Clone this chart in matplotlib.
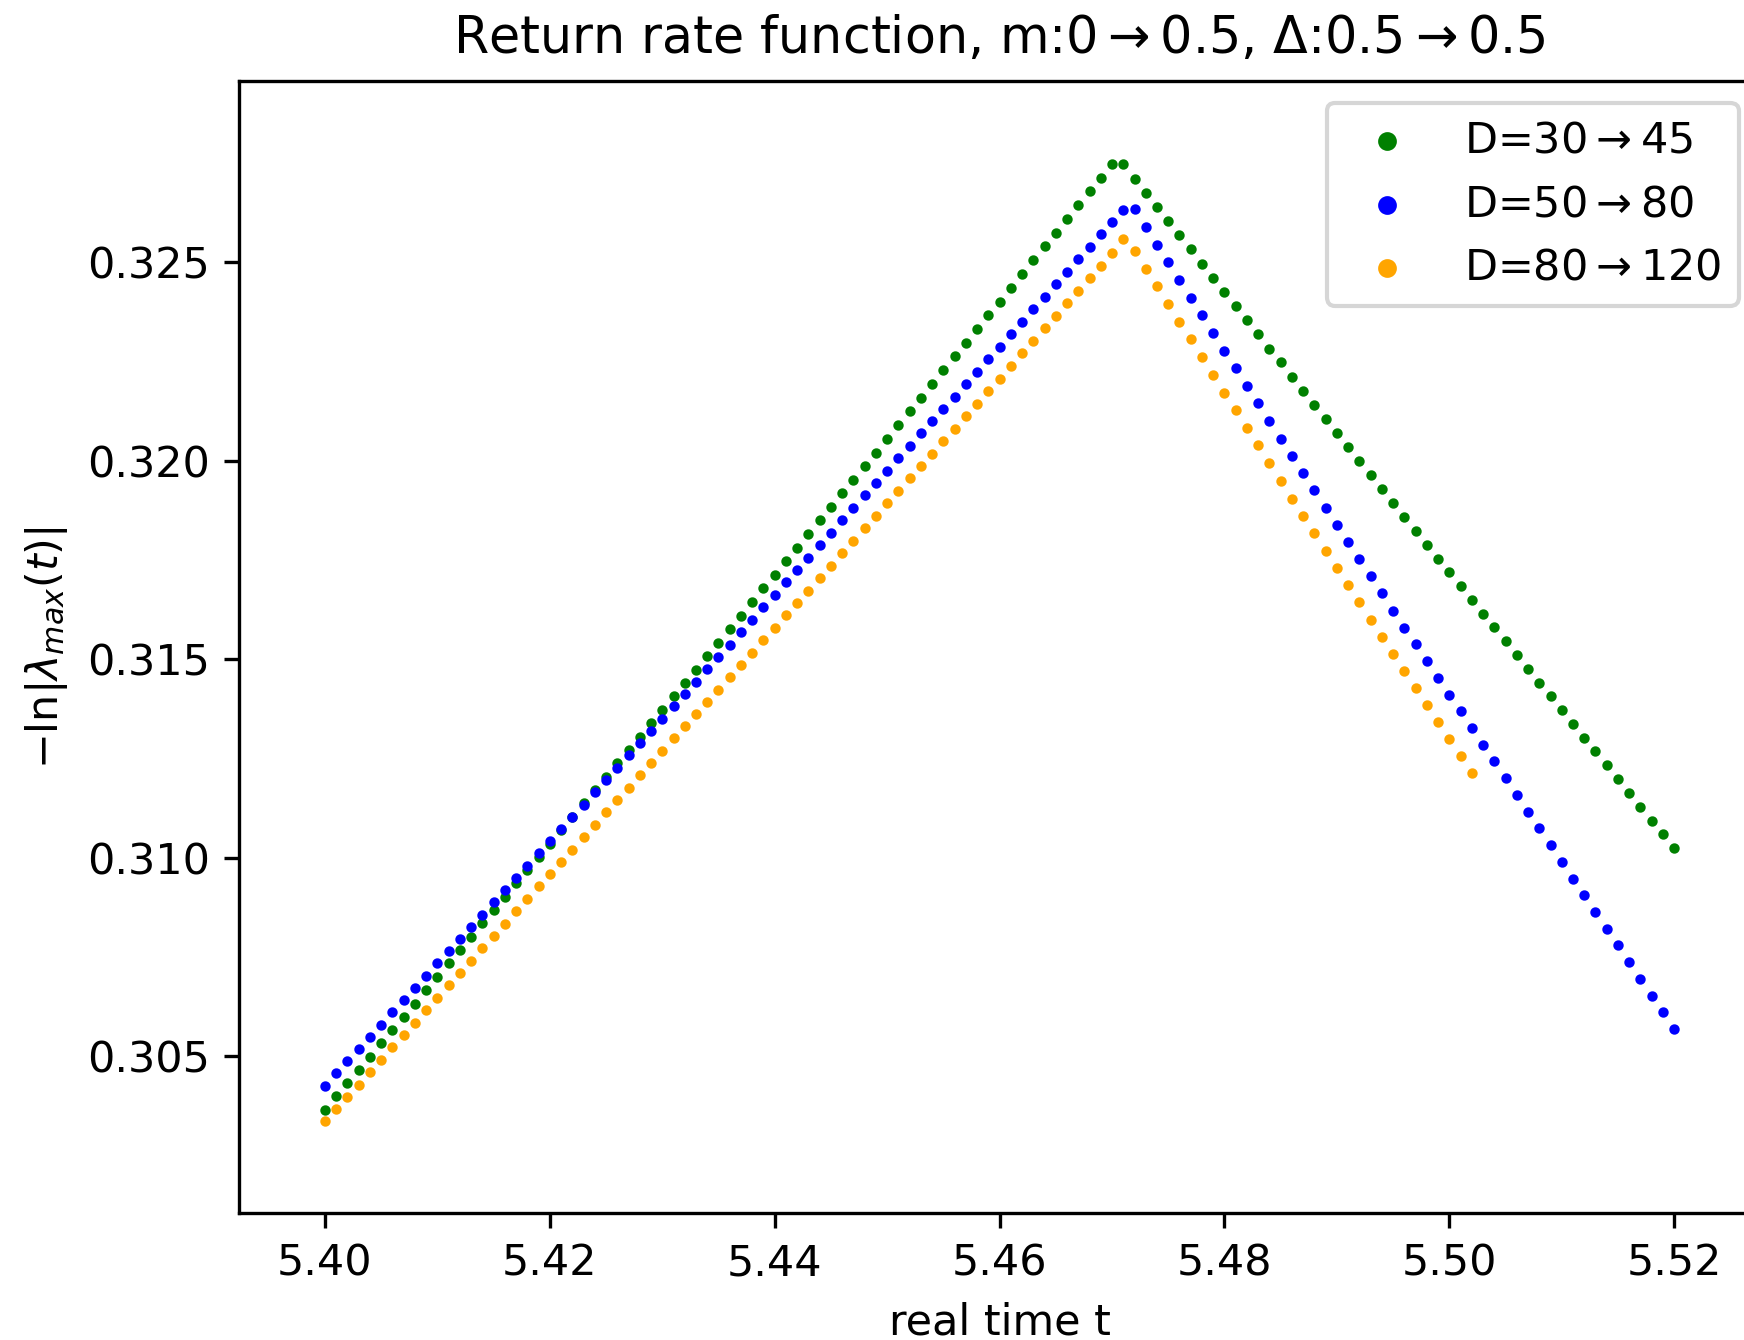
import numpy as np
import matplotlib
matplotlib.use("Agg")
import matplotlib.pyplot as plt

plt.rcParams['font.family'] = ['DejaVu Sans']
plt.rcParams['font.size'] = 10.3

# sampling times (uniform grid, step 0.001)
t_full = np.round(np.arange(5.400, 5.5205, 0.001), 3)
t_short = t_full[:103]

# values in units of 1e-5
green_vals = [
    30365, 30399, 30432, 30466, 30499, 30533, 30566, 30600, 30633, 30667,
    30701, 30734, 30768, 30801, 30835, 30868, 30902, 30936, 30969, 31003,
    31036, 31070, 31103, 31137, 31170, 31204, 31238, 31272, 31305, 31339,
    31373, 31407, 31441, 31474, 31508, 31542, 31576, 31610, 31644, 31679,
    31713, 31747, 31781, 31815, 31850, 31884, 31918, 31953, 31987, 32021,
    32056, 32090, 32125, 32159, 32193, 32228, 32263, 32297, 32332, 32367,
    32401, 32436, 32471, 32505, 32540, 32575, 32609, 32644, 32679, 32713,
    32748, 32747, 32711, 32675, 32639, 32604, 32568, 32533, 32497, 32461,
    32426, 32390, 32355, 32319, 32283, 32248, 32212, 32177, 32141, 32106,
    32071, 32035, 32000, 31965, 31930, 31894, 31859, 31824, 31789, 31754,
    31720, 31685, 31650, 31615, 31581, 31546, 31511, 31476, 31441, 31407,
    31372, 31337, 31302, 31268, 31233, 31198, 31163, 31128, 31094, 31059,
    31024,
]
blue_vals = [
    30426, 30457, 30488, 30518, 30549, 30580, 30611, 30642, 30672, 30703,
    30734, 30765, 30796, 30826, 30857, 30888, 30919, 30950, 30980, 31011,
    31042, 31073, 31104, 31134, 31165, 31196, 31227, 31258, 31289, 31320,
    31351, 31382, 31413, 31444, 31475, 31506, 31537, 31568, 31599, 31631,
    31662, 31694, 31725, 31756, 31788, 31819, 31850, 31881, 31913, 31944,
    31975, 32006, 32037, 32069, 32100, 32131, 32162, 32194, 32225, 32256,
    32288, 32319, 32351, 32382, 32414, 32445, 32476, 32508, 32539, 32571,
    32602, 32633, 32634, 32589, 32544, 32500, 32455, 32411, 32367, 32322,
    32278, 32234, 32189, 32145, 32101, 32056, 32012, 31969, 31926, 31882,
    31839, 31796, 31753, 31710, 31666, 31623, 31580, 31538, 31495, 31453,
    31411, 31369, 31327, 31285, 31243, 31201, 31159, 31116, 31074, 31032,
    30990, 30948, 30906, 30864, 30822, 30780, 30737, 30695, 30653, 30611,
    30569,
]
orange_vals = [
    30336, 30367, 30398, 30429, 30461, 30492, 30523, 30554, 30585, 30616,
    30648, 30679, 30710, 30741, 30772, 30803, 30834, 30866, 30897, 30928,
    30959, 30990, 31021, 31052, 31084, 31115, 31146, 31177, 31208, 31239,
    31270, 31301, 31332, 31362, 31393, 31424, 31455, 31486, 31517, 31548,
    31580, 31611, 31642, 31673, 31705, 31736, 31767, 31798, 31830, 31861,
    31893, 31924, 31956, 31987, 32018, 32050, 32081, 32113, 32144, 32176,
    32207, 32239, 32271, 32302, 32334, 32366, 32397, 32429, 32461, 32492,
    32524, 32558, 32529, 32484, 32440, 32395, 32351, 32306, 32262, 32217,
    32172, 32128, 32083, 32039, 31994, 31950, 31905, 31861, 31818, 31774,
    31731, 31687, 31644, 31600, 31557, 31514, 31471, 31428, 31386, 31343,
    31300, 31257, 31214,
]

labels = [r"D=30$\rightarrow$45", r"D=50$\rightarrow$80", r"D=80$\rightarrow$120"]
colors = ["green", "blue", "orange"]
xticks = [5.40, 5.42, 5.44, 5.46, 5.48, 5.50, 5.52]
yticks = [0.305, 0.310, 0.315, 0.320, 0.325]

fig = plt.figure(figsize=(1744 / 300, 1340 / 300), dpi=300)
ax = fig.add_axes([0.1372, 0.0945, 0.87196, 0.84500])

series = [(t_full, green_vals), (t_full, blue_vals), (t_short, orange_vals)]
for (t, v), lab, c in zip(series, labels, colors):
    ax.scatter(t, np.array(v) * 1e-5, s=1, c=c, label=lab, linewidths=1.5)

ax.set_xlim(5.392378, 5.52763)
ax.set_ylim(0.301045, 0.329567)
ax.set_xticks(xticks)
ax.set_xticklabels([f"{x:.2f}" for x in xticks])
ax.set_yticks(yticks)
ax.set_yticklabels([f"{y:.3f}" for y in yticks])

ax.set_xlabel("real time t")
ax.set_ylabel(r"$-\ln|\lambda_{max}(t)|$")
ax.set_title(r"Return rate function, m:0$\rightarrow$0.5, $\Delta$:0.5$\rightarrow$0.5",
             fontsize=12.2, pad=6.8)
ax.legend(loc="upper right", markerscale=3)

fig.savefig("out.png", dpi=300)
